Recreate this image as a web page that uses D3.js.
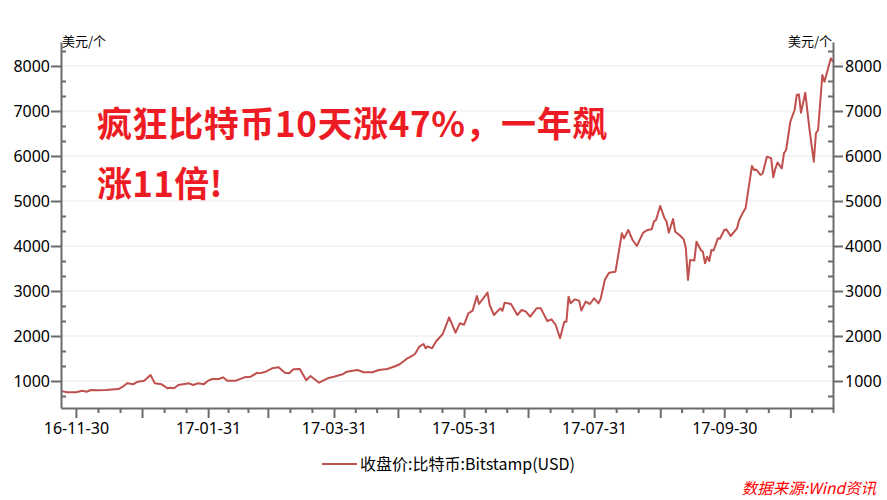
<!DOCTYPE html>
<html><head><meta charset="utf-8">
<script src="https://cdn.jsdelivr.net/npm/d3@7"></script>
<style>body{margin:0;background:#fff}svg{display:block}</style>
</head><body><svg id="c" width="887" height="500"></svg>
<script>
// ---- data ----
const dates = [
"2016-11-23","2016-11-26","2016-11-30","2016-12-03","2016-12-05","2016-12-07","2016-12-10","2016-12-14","2016-12-20","2016-12-22",
"2016-12-24","2016-12-27","2016-12-29","2017-01-01","2017-01-04","2017-01-06","2017-01-09","2017-01-12","2017-01-13","2017-01-15",
"2017-01-17","2017-01-22","2017-01-24","2017-01-26","2017-01-29","2017-01-31","2017-02-02","2017-02-05","2017-02-07","2017-02-09",
"2017-02-13","2017-02-17","2017-02-20","2017-02-23","2017-02-24","2017-02-27","2017-03-02","2017-03-05","2017-03-08","2017-03-10",
"2017-03-12","2017-03-15","2017-03-18","2017-03-20","2017-03-24","2017-03-28","2017-03-31","2017-04-04","2017-04-06","2017-04-11",
"2017-04-14","2017-04-18","2017-04-21","2017-04-25","2017-04-29","2017-05-01","2017-05-04","2017-05-06","2017-05-08","2017-05-10",
"2017-05-12","2017-05-13","2017-05-14","2017-05-16","2017-05-18","2017-05-21","2017-05-24","2017-05-27","2017-05-29","2017-05-31",
"2017-06-02","2017-06-04","2017-06-06","2017-06-07","2017-06-11","2017-06-12","2017-06-14","2017-06-17","2017-06-18","2017-06-19",
"2017-06-22","2017-06-25","2017-06-27","2017-06-29","2017-07-01","2017-07-04","2017-07-06","2017-07-07","2017-07-09","2017-07-11",
"2017-07-13","2017-07-15","2017-07-17","2017-07-18","2017-07-19","2017-07-20","2017-07-22","2017-07-24","2017-07-25","2017-07-27",
"2017-07-29","2017-07-31","2017-08-02","2017-08-03","2017-08-05","2017-08-06","2017-08-07","2017-08-10","2017-08-13","2017-08-14",
"2017-08-16","2017-08-18","2017-08-20","2017-08-23","2017-08-25","2017-08-27","2017-08-28","2017-08-29","2017-08-31","2017-09-02",
"2017-09-03","2017-09-04","2017-09-06","2017-09-07","2017-09-09","2017-09-11","2017-09-12","2017-09-13","2017-09-14","2017-09-16",
"2017-09-17","2017-09-19","2017-09-20","2017-09-21","2017-09-22","2017-09-23","2017-09-24","2017-09-25","2017-09-27","2017-09-28",
"2017-09-30","2017-10-01","2017-10-03","2017-10-06","2017-10-07","2017-10-09","2017-10-10","2017-10-12","2017-10-13","2017-10-14",
"2017-10-15","2017-10-17","2017-10-18","2017-10-20","2017-10-22","2017-10-23","2017-10-24","2017-10-25","2017-10-27","2017-10-28",
"2017-10-29","2017-10-31","2017-11-02","2017-11-03","2017-11-04","2017-11-05","2017-11-07","2017-11-09","2017-11-11","2017-11-12",
"2017-11-13","2017-11-15","2017-11-16","2017-11-19","2017-11-20"];
const closes = [
775,752,750,784,762,800,795,800,822,873,
948,930,984,1007,1133,948,930,838,850,838,
911,948,911,948,930,1007,1044,1044,1082,1007,
1007,1082,1096,1184,1170,1207,1282,1304,1184,1170,
1260,1267,1015,1111,962,1060,1096,1149,1207,1244,
1193,1193,1244,1267,1333,1378,1489,1541,1600,1763,
1822,1726,1770,1726,1889,2044,2415,2074,2282,2250,
2504,2563,2889,2711,2963,2689,2467,2615,2560,2741,
2711,2467,2578,2540,2430,2615,2615,2519,2333,2370,
2244,1949,2319,2319,2874,2726,2815,2780,2563,2763,
2711,2837,2726,2815,3244,3330,3407,3429,4281,4170,
4356,4133,4000,4296,4356,4370,4541,4578,4889,4615,
4541,4296,4600,4318,4244,4148,3948,3244,3689,3680,
4096,3911,3870,3615,3763,3667,3911,3900,4170,4160,
4356,4370,4222,4393,4578,4763,4837,5467,5778,5689,
5700,5578,5610,5985,5950,5526,5726,5852,5726,6059,
6133,6763,7022,7356,7370,6963,7407,6578,5874,6504,
6578,7800,7652,8170,8096];
const dateRange = ["2016-11-23","2017-11-20"];
const monthEnds = ["2016-11-30","2016-12-31","2017-01-31","2017-02-28","2017-03-31","2017-04-30",
  "2017-05-31","2017-06-30","2017-07-31","2017-08-31","2017-09-30","2017-10-31","2017-11-30"];
const xTickLabels = ["16-11-30","17-01-31","17-03-31","17-05-31","17-07-31","17-09-30"];
const yRange = [400, 8533];
const yTickValues = [1000,2000,3000,4000,5000,6000,7000,8000];
const yMinorStep = 1000/3;
const titleLines = ["疯狂比特币10天涨47%，一年飙","涨11倍!"];
const unitLabel = "美元/个";
const legendLabel = "收盘价:比特币:Bitstamp(USD)";
const sourceLabel = "数据来源:Wind资讯";

// ---- chart ----
const parse = d3.timeParse("%Y-%m-%d");
const fmt = d3.timeFormat("%y-%m-%d");
const FONT = "'Noto Sans','Noto Sans CJK SC',sans-serif";
const CJK = "'Noto Sans CJK SC',sans-serif";
const AX = "#6b6b6b", LINE = "#c0504d";
const L = 61, R = 833, T = 42, B = 408;
const svg = d3.select("#c");
const x = d3.scaleTime().domain(dateRange.map(parse)).range([L, R]);
const y = d3.scaleLinear().domain(yRange).range([B, T]);

// gridlines
svg.append("g").selectAll("line").data(yTickValues).join("line")
  .attr("x1", L).attr("x2", R).attr("y1", d => y(d)).attr("y2", d => y(d))
  .attr("stroke", "#e9e9e9").attr("stroke-width", 1);

// title
const title = svg.append("text").attr("fill", "#ed1c24")
  .attr("font-family", CJK).attr("font-weight", "bold").attr("font-size", 35);
titleLines.forEach((t, i) => title.append("tspan").attr("x", 97).attr("y", 137 + i * 60)
  .attr("letter-spacing", i === 0 ? 0.6 : 0.3).text(t));

// line
const pts = dates.map((d, i) => ({d: parse(d), v: closes[i]}));
svg.append("path").datum(pts)
  .attr("fill", "none").attr("stroke", LINE).attr("stroke-width", 2).attr("stroke-linejoin", "round")
  .attr("d", d3.line().x(p => x(p.d)).y(p => y(p.v)));

// y minor ticks
const minors = [];
for (let v = yMinorStep * 2; v < yRange[1]; v += yMinorStep) {
  if (Math.abs(v / 1000 - Math.round(v / 1000)) > 0.01 && v > yRange[0]) minors.push(v);
}
function styleAxis(g) {
  g.selectAll("path,line").attr("stroke", AX).attr("stroke-width", 2);
  g.selectAll("text").attr("fill", "#000").attr("font-family", FONT).attr("font-size", 16);
}
svg.append("g").attr("transform", `translate(${L},0)`)
  .call(d3.axisLeft(y).tickValues(yTickValues).tickSize(10).tickSizeOuter(0).tickPadding(1).tickFormat(d3.format("d")))
  .call(styleAxis);
svg.append("g").attr("transform", `translate(${L},0)`)
  .call(d3.axisRight(y).tickValues(minors).tickSize(5).tickSizeOuter(0).tickFormat(""))
  .call(g => g.select(".domain").remove()).call(styleAxis);
svg.append("g").attr("transform", `translate(${R},0)`)
  .call(d3.axisRight(y).tickValues(yTickValues).tickSize(10).tickSizeOuter(0).tickPadding(2).tickFormat(d3.format("d")))
  .call(styleAxis);
svg.append("g").attr("transform", `translate(${R},0)`)
  .call(d3.axisLeft(y).tickValues(minors).tickSize(5).tickSizeOuter(0).tickFormat(""))
  .call(g => g.select(".domain").remove()).call(styleAxis);

// x axis
const majors = monthEnds.map(parse).filter(d => d <= x.domain()[1]);
const me = monthEnds.map(parse);
const xMinor = [];
for (let i = 0; i < me.length - 1; i++) {
  const span = me[i + 1] - me[i];
  for (let k = 1; k <= 2; k++) {
    const t = new Date(+me[i] + span * k / 3);
    if (t <= x.domain()[1]) xMinor.push(t);
  }
}
svg.append("g").attr("transform", `translate(0,${B})`)
  .call(d3.axisBottom(x).tickValues(majors).tickSize(10).tickSizeOuter(0).tickPadding(5)
    .tickFormat(d => xTickLabels.includes(fmt(d)) ? fmt(d) : ""))
  .call(styleAxis);
svg.append("g").attr("transform", `translate(0,${B})`)
  .call(d3.axisBottom(x).tickValues(xMinor).tickSize(5).tickSizeOuter(0).tickFormat(""))
  .call(g => g.select(".domain").remove()).call(styleAxis);

// unit labels
svg.append("text").attr("x", 62).attr("y", 46).attr("font-family", CJK)
  .attr("font-size", 13).text(unitLabel);
svg.append("text").attr("x", 832).attr("y", 46).attr("text-anchor", "end")
  .attr("font-family", CJK).attr("font-size", 13).text(unitLabel);

// legend
svg.append("line").attr("x1", 322).attr("x2", 357).attr("y1", 464).attr("y2", 464)
  .attr("stroke", LINE).attr("stroke-width", 2);
svg.append("text").attr("x", 360).attr("y", 470).attr("font-family", CJK)
  .attr("font-size", 16).text(legendLabel);

// source
svg.append("text").attr("x", 876).attr("y", 494).attr("text-anchor", "end").attr("fill", "#ff0000")
  .attr("font-style", "italic").attr("font-family", CJK).attr("font-size", 15.5)
  .text(sourceLabel);
</script></body></html>
